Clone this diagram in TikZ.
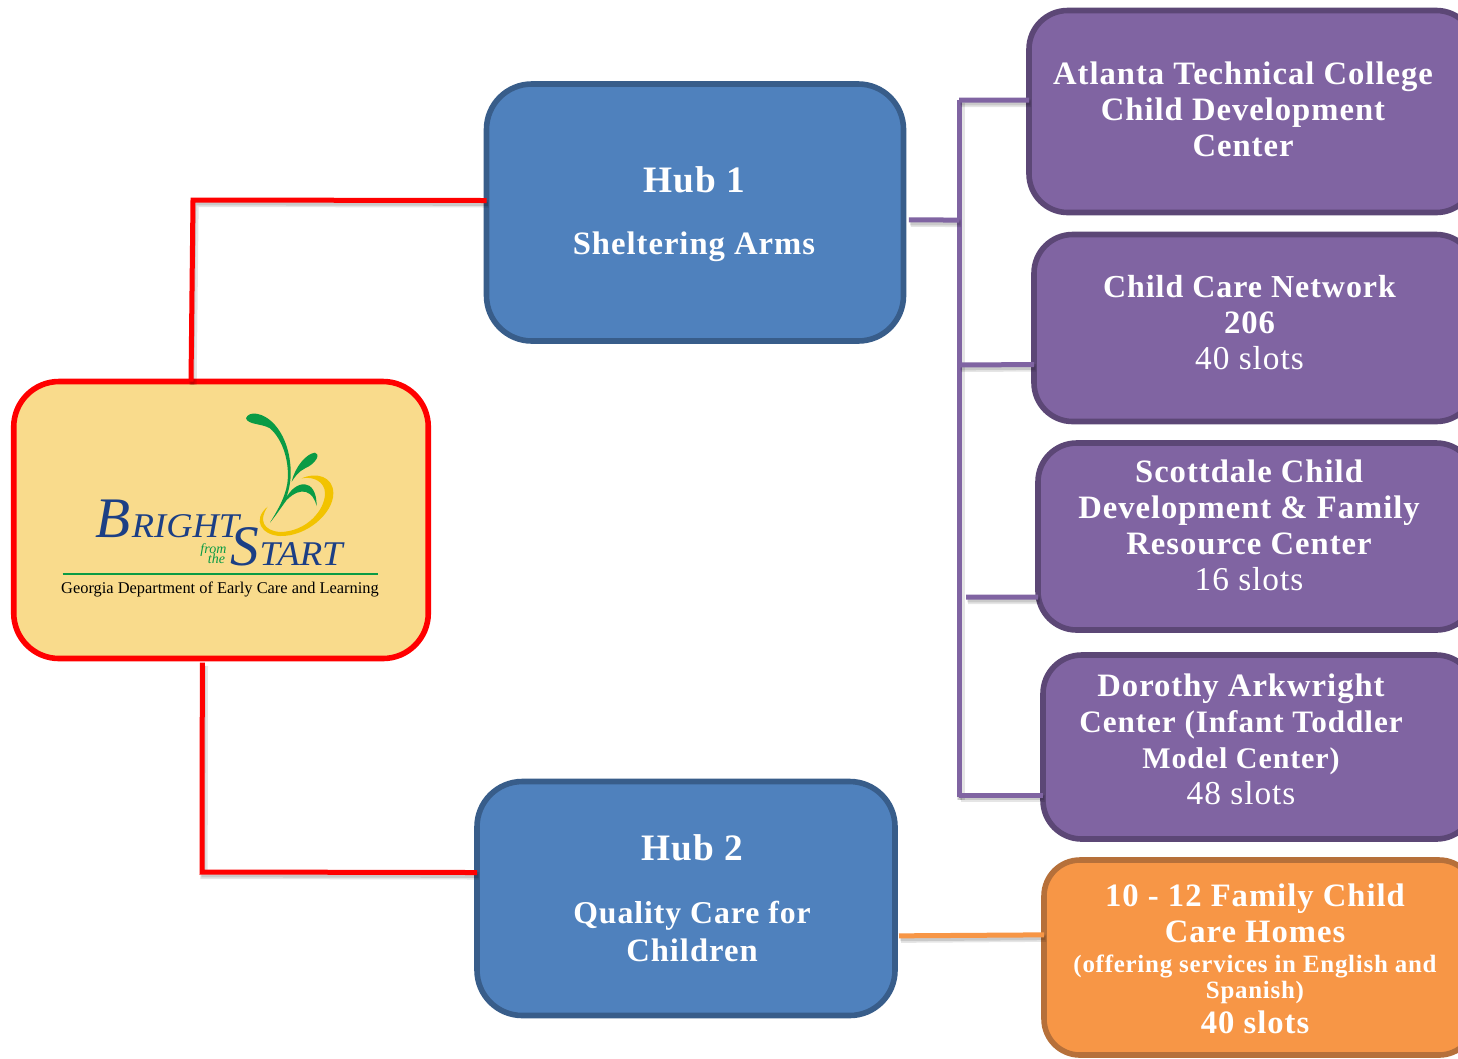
\documentclass[tikz,border=0pt]{standalone}
\usepackage{graphicx}
\usepackage{fontspec}
\setmainfont{Liberation Serif}
\newfontfamily\cam{Liberation Serif}[LetterSpace=3]
\definecolor{hubfill}{HTML}{4F81BD}\definecolor{hubline}{HTML}{385D8A}
\definecolor{purfill}{HTML}{8064A2}\definecolor{purline}{HTML}{5C4776}
\definecolor{orafill}{HTML}{F79646}\definecolor{oraline}{HTML}{B6703A}
\definecolor{rootfill}{HTML}{F9DB8C}\definecolor{navy}{HTML}{1C3F85}
\definecolor{leaf}{HTML}{0A9B45}\definecolor{gold}{HTML}{F2C300}
\newcommand{\slotline}[1]{{\mdseries\fontsize{25}{27}\selectfont #1}}
\newcommand{\sizedline}[2]{{\fontsize{#1}{27}\selectfont #2}}
\tikzset{
 x=0.75pt,y=-0.75pt,
 hubbox/.style={draw=hubline,fill=hubfill,line width=4.2pt,rounded corners=34pt,inner sep=0pt,outer sep=0pt},
 purbox/.style={draw=purline,fill=purfill,line width=4.2pt,rounded corners=29pt,inner sep=0pt,outer sep=0pt},
 orabox/.style={draw=oraline,fill=orafill,line width=4.2pt,rounded corners=27pt,inner sep=0pt,outer sep=0pt},
 rootbox/.style={draw=red,fill=rootfill,line width=4.2pt,rounded corners=34pt,inner sep=0pt,outer sep=0pt},
 boxtext/.style={text=white,align=center,inner sep=0pt,font=\cam\bfseries\fontsize{24.5}{27}\selectfont},
 wire/.style={line width=3.75pt,preaction={draw=black,opacity=.10,line width=5.5pt,transform canvas={shift={(1.5pt,-2.5pt)}}},
   preaction={draw=black,opacity=.12,line width=3pt,transform canvas={shift={(1pt,-2.5pt)}}}},
 redwire/.style={wire,draw=red},
 purwire/.style={wire,draw=purfill},
 orawire/.style={wire,draw=orafill},
}
\begin{document}
\begin{tikzpicture}
\clip (0,0) rectangle (1458,1058);
\useasboundingbox (0,0) rectangle (1458,1058);
\fill[white] (0,0) rectangle (1458,1058);
% connector joints
\coordinate (spineTop) at (959,100);
\coordinate (spineBot) at (959,797);
\coordinate (spineHub) at (959,220);
\coordinate (spineB) at (959,365);
\coordinate (spineC) at (966,597);
\coordinate (spineD) at (959,795);
\coordinate (redTop) at (193,200);
\coordinate (redBot) at (202,872);
% boxes
\node[hubbox,minimum width=312.75pt,minimum height=192.75pt] (hubA) at (695,212.5) {};
\node[hubbox,minimum width=313.5pt,minimum height=175.5pt] (hubB) at (686,898.5) {};
\node[rootbox,minimum width=310.9pt,minimum height=207.75pt] (root) at (221,520) {};
\node[purbox,minimum width=334.5pt,minimum height=151.5pt] (boxA) at (1252,111.5) {};
\node[purbox,minimum width=330.75pt,minimum height=140.25pt] (boxB) at (1254.5,328) {};
\node[purbox,minimum width=327.75pt,minimum height=140.25pt] (boxC) at (1256.5,536.5) {};
\node[purbox,minimum width=324pt,minimum height=138pt] (boxD) at (1259,747) {};
\node[orabox,minimum width=323.25pt,minimum height=146.25pt] (boxE) at (1259.5,957.5) {};
% connectors
\draw[redwire,line join=miter] ([xshift=-22.5pt]root.north) -- (redTop) -- ([yshift=9pt]hubA.west);
\draw[redwire] ([xshift=-14pt,yshift=-3pt]root.south) -- (redBot) -- ([yshift=19.5pt]hubB.west);
\draw[purwire] (spineTop) -- (spineBot);
\draw[purwire] (spineTop) -- ([yshift=8.6pt]boxA.west);
\draw[purwire] ([xshift=4pt,yshift=-5.6pt]hubA.east) -- (spineHub);
\draw[purwire] (spineB) -- ([yshift=-27.4pt]boxB.west);
\draw[purwire] (spineC) -- ([yshift=-45.4pt]boxC.west);
\draw[purwire] (spineD) -- ([yshift=-36pt]boxD.west);
\draw[orawire] ([xshift=3pt,yshift=-28pt]hubB.east) -- ([yshift=17pt]boxE.west);
% box texts
\node[boxtext] (hubAtext) at (694,214) {{\fontsize{28}{48}\selectfont Hub 1}\\[20pt]Sheltering Arms};
\node[boxtext] (hubBtext) at (692,898.5) {{\fontsize{28}{48}\selectfont Hub 2}\\[20pt]\sizedline{23.8}{Quality Care for}\\[2pt]Children};
\node[boxtext] (boxAtext) at (1243,109) {Atlanta Technical College\\Child Development\\Center};
\node[boxtext] (boxBtext) at (1249.5,323) {\sizedline{24}{Child Care Network}\\206\\\slotline{40 slots}};
\node[boxtext] (boxCtext) at (1249,525.5) {Scottdale Child\\Development \& Family\\Resource Center\\\slotline{16 slots}};
\node[boxtext] (boxDtext) at (1241,739) {Dorothy Arkwright\\\sizedline{23.4}{Center (Infant Toddler}\\\sizedline{22.5}{Model Center)}\\\slotline{48 slots}};
\node[boxtext] (boxEtext) at (1255,959) {10 - 12 Family Child\\Care Homes\\[-5pt]{\fontsize{18.7}{19.5}\selectfont (offering services in English and}\\[-7.5pt]{\fontsize{18.7}{19.5}\selectfont Spanish)}\\[-.5pt]40 slots};
% logo (coordinates are 3x zoom units)
\begin{scope}[x=0.25pt,y=-0.25pt,shift={(0pt,-277.5pt)}]
\fill[gold] (905,325) .. controls (950,305) and (1000,320) .. (1000,370) .. controls (1000,430) and (920,500) .. (840,498) .. controls (785,495) and (755,450) .. (803,410) .. controls (775,450) and (790,482) .. (840,486) .. controls (920,485) and (975,420) .. (975,370) .. controls (975,335) and (940,318) .. (905,325) -- cycle;
\fill[leaf] (738,145) .. controls (745,122) and (790,125) .. (825,165) .. controls (860,205) and (874,265) .. (872,320) .. controls (870,350) and (862,375) .. (858,385) .. controls (885,330) and (950,320) .. (950,408) .. controls (940,365) and (905,345) .. (860,390) .. controls (845,410) and (825,440) .. (810,458) .. controls (830,425) and (855,385) .. (862,340) .. controls (870,280) and (850,210) .. (810,175) .. controls (785,160) and (745,165) .. (738,145) -- cycle;
\fill[leaf] (875,335) .. controls (885,290) and (920,250) .. (945,248) .. controls (962,250) and (950,280) .. (915,295) .. controls (895,305) and (885,320) .. (875,335) -- cycle;
\node[anchor=base west,inner sep=0pt,text=navy,font=\itshape\fontsize{43}{43}\selectfont] (logoB) at (287,502) {B};
\node[anchor=base west,inner sep=0pt,text=navy,font=\itshape\fontsize{26}{26}\selectfont] (logoR) at (395,502) {\scalebox{1.05}[1]{RIGHT}};
\node[anchor=base west,inner sep=0pt,text=navy,font=\itshape\fontsize{43}{43}\selectfont] (logoS) at (690,585) {S};
\node[anchor=base west,inner sep=0pt,text=navy,font=\itshape\fontsize{26}{26}\selectfont] (logoT) at (778,585) {\scalebox{1.06}[1]{TART}};
\node[anchor=base east,inner sep=0pt,text=leaf,font=\itshape\fontsize{10.5}{10.5}\selectfont] (logoF) at (680,550) {from};
\node[anchor=base east,inner sep=0pt,text=leaf,font=\itshape\fontsize{10.5}{10.5}\selectfont] (logoH) at (676,581) {the};
\draw[leaf,line width=.8pt] (188,612) -- (1133,612);
\node[anchor=base,inner sep=0pt,text=black,font=\fontsize{12.3}{14}\selectfont] (logoG) at (660,670) {Georgia Department of Early Care and Learning};
\end{scope}
\end{tikzpicture}
\end{document}
